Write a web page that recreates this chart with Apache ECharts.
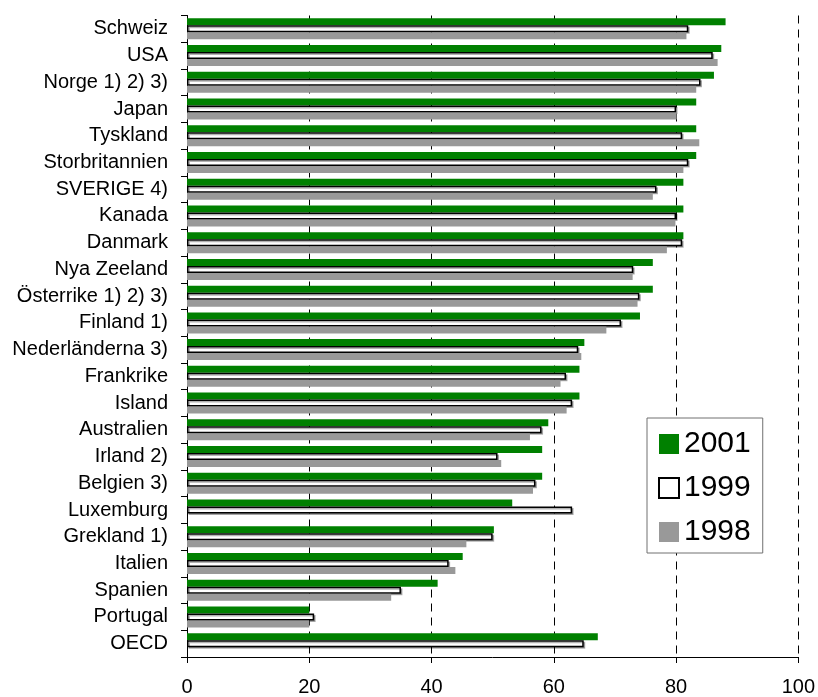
<!DOCTYPE html>
<html>
<head>
<meta charset="utf-8">
<script src="https://cdn.jsdelivr.net/npm/echarts@6/dist/echarts.min.js"></script>
<style>
  html, body { margin: 0; padding: 0; background: #fff; }
  #main { width: 818px; height: 697px; }
</style>
</head>
<body>
<div id="main"></div>
<script>
let myChart = echarts.init(document.getElementById('main'));

// länder, uppifrån och ned
let countries = ['Schweiz', 'USA', 'Norge 1) 2) 3)', 'Japan', 'Tyskland', 'Storbritannien',
    'SVERIGE 4)', 'Kanada', 'Danmark', 'Nya Zeeland', 'Österrike 1) 2) 3)', 'Finland 1)',
    'Nederländerna 3)', 'Frankrike', 'Island', 'Australien', 'Irland 2)', 'Belgien 3)',
    'Luxemburg', 'Grekland 1)', 'Italien', 'Spanien', 'Portugal', 'OECD'];

let years = ['2001', '1999', '1998'];

let v2001 = [88.1, 87.4, 86.2, 83.3, 83.3, 83.3, 81.2, 81.2, 81.2, 76.2, 76.2, 74.1,
    65.0, 64.2, 64.2, 59.1, 58.1, 58.1, 53.2, 50.2, 45.1, 41.0, 20.0, 67.2];
let v1999 = [82.0, 86.0, 84.0, 80.0, 81.0, 82.0, 76.8, 80.0, 81.0, 73.0, 74.0, 71.0,
    64.0, 62.0, 63.0, 58.0, 50.8, 57.0, 63.0, 50.0, 42.8, 35.0, 20.8, 64.9];
let v1998 = [81.7, 86.8, 83.3, 80.1, 83.8, 81.2, 76.2, 79.9, 78.5, 72.9, 73.7, 68.6,
    64.5, 61.1, 62.1, 56.1, 51.4, 56.6, null, 45.7, 43.9, 33.4, 20.0, null];

let xTicks = [0, 20, 40, 60, 80, 100];

let font = '"Liberation Sans", Arial, sans-serif';

let option = {
    animation: false,
    backgroundColor: '#fff',
    grid: {
        left: 187,
        right: 19,
        top: 15.5,
        bottom: 39
    },
    legend: {
        orient: 'vertical',
        left: 647,
        top: 418,
        padding: [11, 12, 6, 11],
        itemWidth: 20,
        itemHeight: 20,
        itemGap: 14,
        itemTextGap: 8,
        icon: 'rect',
        backgroundColor: '#fff',
        borderColor: '#707070',
        borderWidth: 1,
        textStyle: { fontSize: 30, color: '#000', fontFamily: font },
        data: years
    },
    xAxis: {
        type: 'value',
        min: xTicks[0],
        max: xTicks[xTicks.length - 1],
        interval: 20,
        axisLine: { show: true, lineStyle: { color: '#000', width: 1 } },
        axisTick: { show: true, length: 6, lineStyle: { color: '#000' } },
        axisLabel: { fontSize: 20, color: '#000', fontFamily: font, margin: 20 },
        splitLine: { show: true, lineStyle: { color: '#000', width: 1, type: [8, 6] } }
    },
    yAxis: {
        type: 'category',
        inverse: true,
        data: countries,
        axisLine: { show: true, lineStyle: { color: '#000', width: 1 } },
        axisTick: { show: true, length: 6, lineStyle: { color: '#000' } },
        axisLabel: { fontSize: 20, color: '#000', fontFamily: font, margin: 19 },
        splitLine: { show: false }
    },
    series: [
        {
            name: years[0],
            type: 'bar',
            data: v2001,
            barWidth: 7,
            barGap: '0%',
            itemStyle: { color: '#008000' }
        },
        {
            name: years[1],
            type: 'bar',
            data: v1999,
            barWidth: 7,
            barGap: '0%',
            itemStyle: {
                color: '#fff',
                borderColor: '#000',
                borderWidth: 1.5,
                shadowColor: 'rgba(0,0,0,0.3)',
                shadowOffsetX: 1.5,
                shadowOffsetY: 1.5
            }
        },
        {
            name: years[2],
            type: 'bar',
            data: v1998,
            barWidth: 7,
            barGap: '0%',
            itemStyle: { color: '#999999' }
        }
    ]
};

myChart.setOption(option);
</script>
</body>
</html>
